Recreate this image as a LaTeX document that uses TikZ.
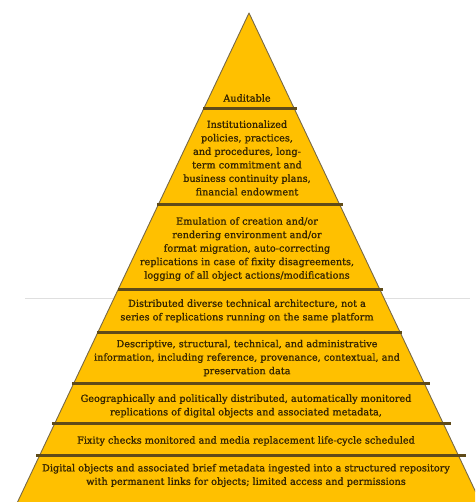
\documentclass[tikz,border=0pt]{standalone}
\usepackage{fontspec}
\setmainfont{DejaVu Serif}
\newfontfamily\tierfont{DejaVu Serif}[RawFeature={embolden=1.2}]
\usepackage{xcolor}
\definecolor{tiergold}{RGB}{255,192,0}
\definecolor{tierline}{RGB}{95,75,25}
\definecolor{tieredge}{RGB}{120,105,70}
\definecolor{tiertext}{RGB}{55,38,0}

\begin{document}
\begin{tikzpicture}[x=1pt,y=-1pt,line join=round,
  tier/.style={font=\tierfont\fontsize{9.7}{13.5}\selectfont,text=tiertext,align=center,inner sep=0pt}]
\useasboundingbox (0,0) rectangle (475,502);
\clip (0,0) rectangle (475,502);
\draw[gray!25,line width=0.6pt] (25,298) -- (470,298);
\filldraw[fill=tiergold,draw=tieredge,line width=0.9pt] (249,13) -- (10,518) -- (488,518) -- cycle;
\foreach \y/\xl/\xr in {109/203/297,205/157/343,289/118/383,332/97/402,383/72/430,423/52/451,455/36/466}
  \draw[tierline,line width=3pt] (\xl,\y) -- (\xr,\y);
\node[tier] (audit) at (247,98) {Auditable};
\node[tier] (inst) at (247,158) {Institutionalized\\policies, practices,\\and procedures, long-\\term commitment and\\business continuity plans,\\financial endowment};
\node[tier] (emul) at (247,249) {Emulation of creation and/or\\rendering environment and/or\\format migration, auto-correcting\\replications in case of fixity disagreements,\\logging of all object actions/modifications};
\node[tier] (distr) at (247,311) {Distributed diverse technical architecture, not a\\series of replications running on the same platform};
\node[tier] (descr) at (247,358) {Descriptive, structural, technical, and administrative\\information, including reference, provenance, contextual, and\\preservation data};
\node[tier] (geo) at (246,406) {Geographically and politically distributed, automatically monitored\\replications of digital objects and associated metadata,};
\node[tier] (fixity) at (246,441) {Fixity checks monitored and media replacement life-cycle scheduled};
\node[tier] (digital) at (246,475.5) {Digital objects and associated brief metadata ingested into a structured repository\\with permanent links for objects; limited access and permissions};
\end{tikzpicture}
\end{document}
